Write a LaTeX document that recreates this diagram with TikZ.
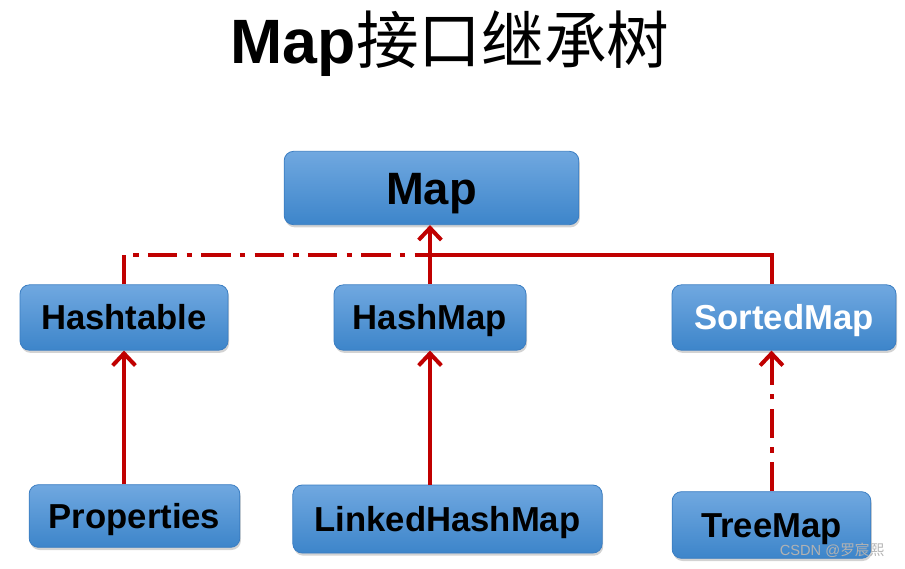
\documentclass[tikz,border=0pt]{standalone}
\usepackage{fontspec}
\setmainfont{Liberation Sans}
\newfontfamily\cjk{Noto Sans CJK SC}
\usetikzlibrary{arrows.meta,shadows}
\definecolor{boxtop}{HTML}{70A8E0}
\definecolor{boxbot}{HTML}{3D85CA}
\definecolor{boxline}{HTML}{3A7DC2}
\definecolor{linkred}{HTML}{C00000}
\tikzset{
  cls/.style={rounded corners=7pt, draw=boxline, line width=0.6pt,
    top color=boxtop, bottom color=boxbot, shading angle=0,
    drop shadow={shadow xshift=0.8pt, shadow yshift=-2pt, opacity=0.35},
    font=\fontsize{26}{30}\selectfont\bfseries, text=black, inner sep=0pt,
    text height=18.6pt, text depth=0pt},
  rel/.style={draw=linkred, line width=3pt},
  dashdot/.style={rel, dash pattern=on 22pt off 7pt on 4pt off 7pt},
  tip/.style={-{Straight Barb[length=9pt,width=17pt,line width=3pt]}}
}
\begin{document}
\begin{tikzpicture}[x=0.75pt,y=-0.75pt]
\useasboundingbox (0,0) rectangle (905,568);
\node (title) at (450,44) {\fontsize{47}{56}\selectfont\bfseries Map\cjk\mdseries 接口继承树};
\node[cls, minimum width=221pt, minimum height=55pt, font=\fontsize{34}{40}\selectfont\bfseries, text height=24.3pt] (map) at (431.5,188) {Map};
\node[cls, minimum width=156pt, minimum height=49pt] (hashtable) at (124,317.5) {Hashtable};
\node[cls, minimum width=144pt, minimum height=49pt] (hashmap) at (430,317.5) {HashMap};
\node[cls, minimum width=168pt, minimum height=49pt, text=white] (sortedmap) at (784,317.5) {SortedMap};
\node[cls, minimum width=158pt, minimum height=47pt] (properties) at (134.5,516) {Properties};
\node[cls, minimum width=232pt, minimum height=51pt] (linked) at (447.5,519) {LinkedHashMap};
\node[cls, minimum width=149pt, minimum height=50pt] (treemap) at (771.5,525) {TreeMap};
\coordinate (j) at (430,255);
% implementations (dash-dot)
\draw[dashdot] (hashtable.north) -- (hashtable.north |- j) -- (j);
\draw[dashdot] (hashmap.north) -- (j);
% SortedMap extends Map (solid)
\draw[rel] (sortedmap.north -| treemap.north) -- (j -| treemap.north) -- (j);
\draw[rel, tip] (j) -- (j |- map.south);
% sub-classes
\draw[rel, tip] (properties.north -| hashtable.south) -- (hashtable.south);
\draw[rel, tip] (linked.north -| hashmap.south) -- (hashmap.south);
\draw[dashdot, tip] (treemap.north) -- (sortedmap.south -| treemap.north);
\node[text=gray!60, font=\fontsize{11}{13}\selectfont, anchor=east] (wm) at (889,550) {CSDN @\cjk 罗宸熙};
\end{tikzpicture}
\end{document}
